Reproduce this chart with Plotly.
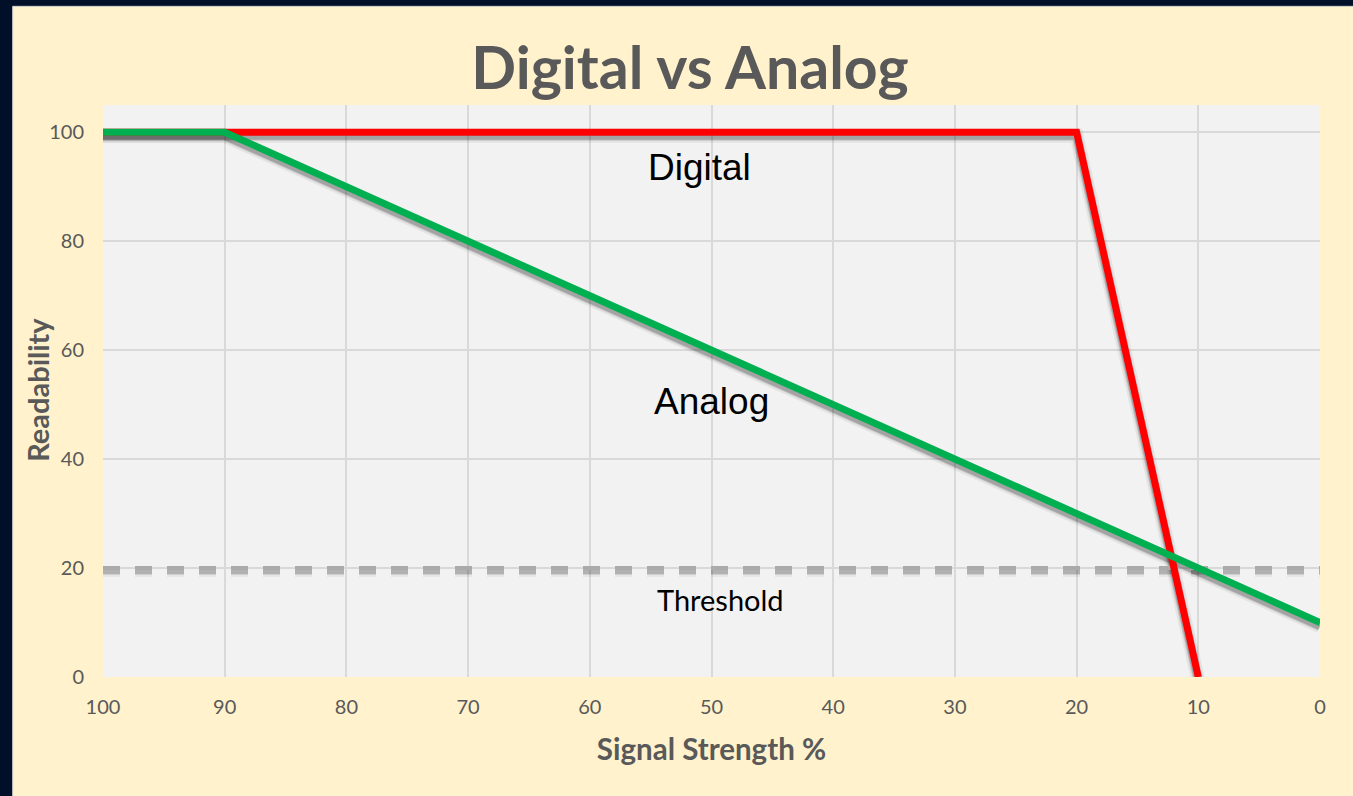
import plotly.graph_objects as go

# Data
digital_x = [100, 20, 10]
digital_y = [100, 100, 0]
analog_x = [100, 90, 0]
analog_y = [100, 100, 10]
threshold_x = [100, 0]
threshold_y = [20, 20]
x_ticks = [100, 90, 80, 70, 60, 50, 40, 30, 20, 10, 0]
y_ticks = [0, 20, 40, 60, 80, 100]

FONT = "Lato"
GRAY = "#595959"

fig = go.Figure()
# soft shadows: same data drawn on a hidden axis whose range is shifted slightly
for width, alpha in [(14, 0.06), (10, 0.12), (8, 0.18)]:
    fig.add_trace(go.Scatter(x=threshold_x, y=threshold_y, mode="lines", yaxis="y",
                             line=dict(color=f"rgba(0,0,0,{alpha * 0.8})", width=width - 3,
                                       dash="17px,15px"),
                             hoverinfo="skip", showlegend=False))
    for xs, ys in [(digital_x, digital_y), (analog_x, analog_y)]:
        fig.add_trace(go.Scatter(x=xs, y=ys, mode="lines", yaxis="y",
                                 line=dict(color=f"rgba(0,0,0,{alpha})", width=width),
                                 hoverinfo="skip", showlegend=False))
fig.add_trace(go.Scatter(x=threshold_x, y=threshold_y, mode="lines", yaxis="y2",
                         line=dict(color="#ABABAB", width=4, dash="17px,15px"),
                         hoverinfo="skip", showlegend=False))
fig.add_trace(go.Scatter(x=digital_x, y=digital_y, mode="lines", name="Digital", yaxis="y2",
                         line=dict(color="#FF0000", width=7), showlegend=False))
fig.add_trace(go.Scatter(x=analog_x, y=analog_y, mode="lines", name="Analog", yaxis="y2",
                         line=dict(color="#00B050", width=7), showlegend=False))

fig.update_layout(
    width=1353, height=796,
    margin=dict(l=103, r=33, t=105, b=119),
    paper_bgcolor="#011028",
    plot_bgcolor="#F2F2F2",
    title=dict(text="<b>Digital vs Analog</b>", x=0.51, xanchor="center",
               y=1 - 68 / 796, yanchor="middle",
               font=dict(family=FONT, size=59, color=GRAY)),
    xaxis=dict(range=[100, 0], tickvals=x_ticks, showgrid=True, gridcolor="#D9D9D9",
               gridwidth=1.5, zeroline=False, showline=False,
               ticks="outside", ticklen=12, tickcolor="rgba(0,0,0,0)",
               tickfont=dict(family=FONT, size=20, color=GRAY),
               title=dict(text="<b>Signal Strength %</b>", standoff=22,
                          font=dict(family=FONT, size=29.5, color=GRAY))),
    yaxis=dict(range=[0.65, 105.65], showgrid=False, zeroline=False, showline=False,
               showticklabels=False, ticks=""),
    yaxis2=dict(range=[0, 105], overlaying="y", side="left", tickvals=y_ticks,
                showgrid=True, gridcolor="#D9D9D9", gridwidth=1.5,
                zeroline=False, showline=False,
                ticks="outside", ticklen=14, tickcolor="rgba(0,0,0,0)",
                tickfont=dict(family=FONT, size=20, color=GRAY)),
    shapes=[
        dict(type="rect", xref="paper", yref="paper", x0=-0.0742, x1=1.03,
             y0=-0.21, y1=1.1725, fillcolor="#FFF2CC",
             line=dict(color="#D0D0D0", width=1), layer="below"),
        dict(type="rect", xref="paper", yref="paper", x0=0, x1=1, y0=0, y1=1,
             fillcolor="#F2F2F2", line=dict(width=0), layer="below"),
    ],
    annotations=[
        dict(x=-0.0534, y=0.502, xref="paper", yref="paper", text="<b>Readability</b>",
             textangle=-90, showarrow=False, xanchor="center", yanchor="middle",
             font=dict(family=FONT, size=29, color=GRAY)),
        dict(x=51, y=93.5, yref="y2", text="Digital", showarrow=False,
             font=dict(family="Liberation Sans", size=37, color="black")),
        dict(x=50, y=50.5, yref="y2", text="Analog", showarrow=False,
             font=dict(family="Liberation Sans", size=37, color="black")),
        dict(x=49.3, y=14.3, yref="y2", text="Threshold", showarrow=False,
             font=dict(family=FONT, size=29, color="black")),
    ],
)

fig.write_html("out.html", config={"displayModeBar": False},
               post_script="document.body.style.margin='0';")
